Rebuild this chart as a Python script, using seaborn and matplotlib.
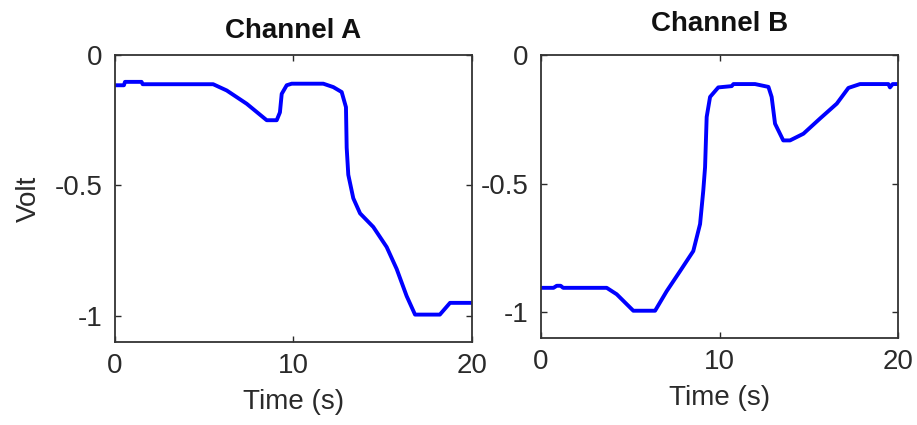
import matplotlib
matplotlib.use('Agg')
import matplotlib.pyplot as plt
import seaborn as sns
import pandas as pd

# Channel A trace (time in s, volt)
time_a = [0.0, 0.5, 0.56, 1.49, 1.55, 5.5, 6.26, 7.38, 8.5, 9.06, 9.24, 9.34, 9.62, 9.9,
          11.67, 12.23, 12.7, 12.94, 12.98, 13.07, 13.35, 13.73, 14.47, 15.22, 15.78,
          16.34, 16.81, 18.2, 18.77, 19.98]
volt_a = [-0.116, -0.116, -0.103, -0.103, -0.112, -0.112, -0.136, -0.187, -0.25, -0.25,
          -0.22, -0.149, -0.116, -0.11, -0.11, -0.123, -0.142, -0.2, -0.355, -0.459,
          -0.549, -0.607, -0.659, -0.736, -0.82, -0.924, -0.995, -0.995, -0.95, -0.95]

# Channel B trace
time_b = [0.0, 0.7, 0.88, 1.1, 1.24, 3.68, 4.24, 5.17, 6.39, 7.04, 7.79, 8.53, 8.91,
          9.09, 9.19, 9.28, 9.47, 9.93, 10.68, 10.78, 11.99, 12.74, 12.92, 13.11, 13.57,
          13.95, 14.7, 15.63, 16.57, 17.22, 17.87, 19.46, 19.55, 19.7, 20.0]
volt_b = [-0.905, -0.905, -0.897, -0.897, -0.905, -0.905, -0.93, -0.994, -0.994, -0.918,
          -0.84, -0.762, -0.657, -0.527, -0.436, -0.241, -0.163, -0.126, -0.121, -0.113,
          -0.113, -0.124, -0.163, -0.267, -0.332, -0.332, -0.306, -0.247, -0.189, -0.128,
          -0.113, -0.113, -0.126, -0.113, -0.113]

x_ticks = [0, 10, 20]
y_ticks = [0, -0.5, -1]
y_tick_labels = ['0', '-0.5', '-1']
titles = ['Channel A', 'Channel B']

sns.set_style('ticks')
plt.rcParams['font.family'] = ['Liberation Sans', 'DejaVu Sans']

fig = plt.figure(figsize=(9.17, 4.25), dpi=100)
ax1 = fig.add_axes([0.1254, 0.1953, 0.3893, 0.6753])
ax2 = fig.add_axes([0.59, 0.2047, 0.3893, 0.6659])

data = [(time_a, volt_a), (time_b, volt_b)]
title_y = [1.0, 1.025]
for ax, (t, v), title, ty in zip([ax1, ax2], data, titles, title_y):
    df = pd.DataFrame({'t': t, 'v': v})
    sns.lineplot(data=df, x='t', y='v', ax=ax, color='#0000FF', linewidth=2.8,
                 estimator=None, sort=False)
    ax.set_xlim(0, 20)
    ax.set_ylim(-1.1, 0)
    ax.set_xticks(x_ticks)
    ax.set_yticks(y_ticks)
    ax.set_yticklabels(y_tick_labels)
    ax.tick_params(direction='in', top=True, right=True, length=4, width=1,
                   labelsize=20, colors='#2a2a2a')
    ax.tick_params(axis='y', pad=9)
    ax.tick_params(axis='x', pad=8)
    for s in ax.spines.values():
        s.set_visible(True)
        s.set_color('#333333')
        s.set_linewidth(1.3)
    ax.set_xlabel('Time (s)', fontsize=20, color='#2a2a2a', labelpad=7)
    ax.set_ylabel('')
    ax.set_title(title, fontsize=20, fontweight='bold', color='#111111', pad=12, y=ty)

ax1.set_ylabel('Volt', fontsize=20, color='#2a2a2a', labelpad=9)

fig.savefig('out.png', dpi=100)
